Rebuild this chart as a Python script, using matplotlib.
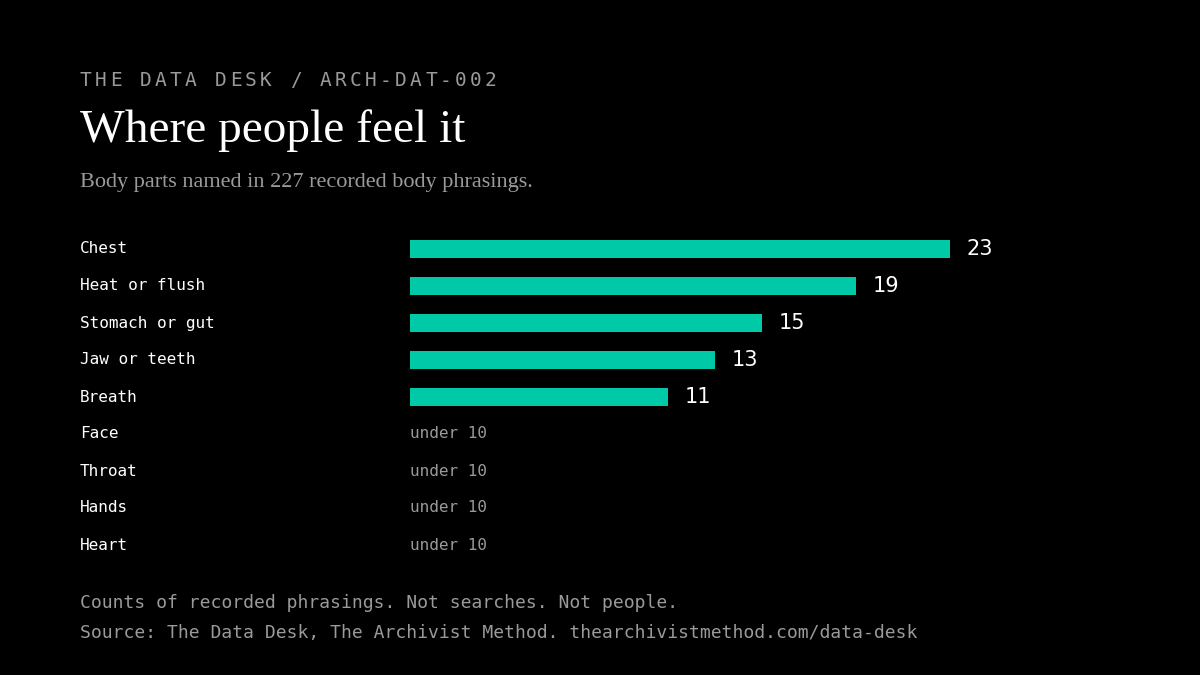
import matplotlib
matplotlib.use("Agg")
import matplotlib.pyplot as plt

categories = ["Chest", "Heat or flush", "Stomach or gut", "Jaw or teeth", "Breath",
              "Face", "Throat", "Hands", "Heart"]
counts = [23, 19, 15, 13, 11, None, None, None, None]

BG = "#000000"
TEAL = "#00c9a7"
GREY = "#9a9a9a"
MONO = "DejaVu Sans Mono"
SERIF = "Liberation Serif"

W, H = 1200, 675
fig = plt.figure(figsize=(12, 6.75), dpi=100, facecolor=BG)

def fx(px):
    return px / W

def fy(py):
    return 1 - py / H

# header with letter spacing
header = "THE DATA DESK / ARCH-DAT-002"
for i, ch in enumerate(header):
    fig.text(fx(80 + i * 15), fy(81), ch, color=GREY, fontsize=14, family=MONO,
             va="center", ha="left")

fig.text(fx(80), fy(131), "Where people feel it", color="white", fontsize=34,
         family=SERIF, va="center")
fig.text(fx(80), fy(183), "Body parts named in 227 recorded body phrasings.", color=GREY,
         fontsize=16, family=SERIF, va="center")

# bar axes: x 410..950 px covers 0..23; rows 249..545
n = len(categories)
top_px, bot_px = 249 - 18.5, 545 + 18.5
ax = fig.add_axes([fx(410), fy(bot_px), 540 / W, (bot_px - top_px) / H])
ax.set_facecolor(BG)
ax.set_xlim(0, 23)
ax.set_ylim(n - 0.5, -0.5)
ax.axis("off")

for i, (cat, v) in enumerate(zip(categories, counts)):
    fig.text(fx(80), fy(249 + i * 37), cat, color="white", fontsize=11.5, family=MONO,
             va="center")
    if v is not None:
        ax.barh(i, v, height=0.5, color=TEAL)
        ax.text(v + 0.7, i, str(v), color="white", fontsize=15, va="center",
                family="DejaVu Sans")
    else:
        ax.text(0, i, "under 10", color=GREY, fontsize=11.5, family=MONO, va="center")

fig.text(fx(80), fy(603), "Counts of recorded phrasings. Not searches. Not people.",
         color=GREY, fontsize=13, family=MONO, va="center")
fig.text(fx(80), fy(633), "Source: The Data Desk, The Archivist Method. thearchivistmethod.com/data-desk",
         color=GREY, fontsize=13, family=MONO, va="center")

fig.savefig("out.png", dpi=100, facecolor=BG)
